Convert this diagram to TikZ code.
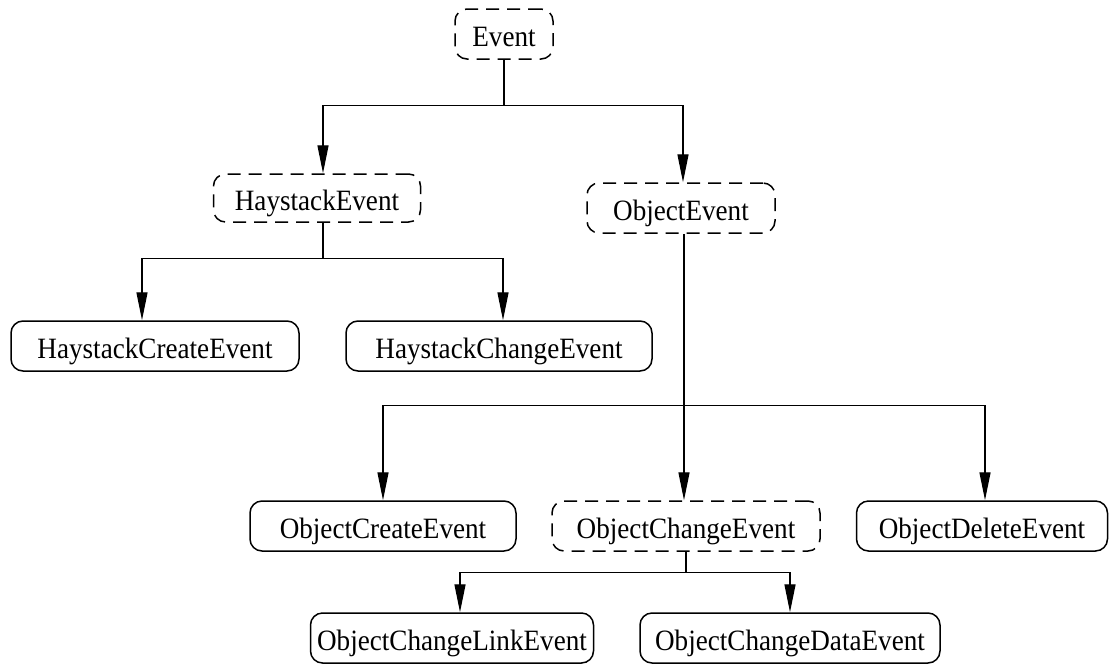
\documentclass[tikz,border=0pt]{standalone}
\usepackage{fontspec}
\setmainfont{Liberation Serif}[FakeStretch=0.92]
\usetikzlibrary{arrows.meta}
\begin{document}
\begin{tikzpicture}[x=1pt,y=-1pt,
  cls/.style={draw, line width=1.5pt, rounded corners=12pt,
    minimum height=50pt, inner xsep=0pt, inner ysep=0pt,
    font=\fontsize{29.5}{34}\selectfont,
    text height=24pt, text depth=0pt},
  abstractcls/.style={cls, dash pattern=on 13pt off 8pt},
  link/.style={line width=1.4pt},
  inherit/.style={link, -{Triangle[length=28pt,width=11pt]}}]
\useasboundingbox (0,0) rectangle (1117,665);

% classes
\node[abstractcls, minimum width=98pt]  (ev)  at (504,34)  {Event};
\node[abstractcls, minimum width=207pt, minimum height=48pt] (he) at (317,198) {HaystackEvent};
\node[abstractcls, minimum width=188pt] (oe)  at (681,208) {ObjectEvent};
\node[cls, minimum width=288pt]         (hc)  at (155,346) {HaystackCreateEvent};
\node[cls, minimum width=306pt]         (hch) at (499,346) {HaystackChangeEvent};
\node[cls, minimum width=266pt]         (oc)  at (383,526) {ObjectCreateEvent};
\node[abstractcls, minimum width=268pt] (och) at (686,526) {ObjectChangeEvent};
\node[cls, minimum width=251pt]         (od)  at (982,526) {ObjectDeleteEvent};
\node[cls, minimum width=283pt]         (ocl) at (452,638) {ObjectChangeLinkEvent};
\node[cls, minimum width=300pt]         (ocd) at (790,638) {ObjectChangeDataEvent};

% Event subclasses
\draw[link] (ev.south) -- ++(0,46) coordinate (j0);
\draw[inherit] (j0) -| ([xshift=6pt]he.north);
\draw[inherit] (j0) -| ([xshift=2pt]oe.north);

% HaystackEvent subclasses
\draw[link] ([xshift=6pt]he.south) -- ++(0,36) coordinate (j1);
\draw[inherit] (j1) -| ([xshift=-13pt]hc.north);
\draw[inherit] (j1) -| ([xshift=4pt]hch.north);

% ObjectEvent subclasses
\draw[inherit] ([xshift=3pt]oe.south) -- ([xshift=-2pt]och.north);
\coordinate (j2) at ([xshift=3pt,yshift=-172pt]oe.south);
\draw[inherit] (j2) -| (oc.north);
\draw[inherit] (j2) -| ([xshift=3pt]od.north);

% ObjectChangeEvent subclasses
\draw[link] (och.south) -- ++(0,21) coordinate (j3);
\draw[inherit] (j3) -| ([xshift=8pt]ocl.north);
\draw[inherit] (j3) -| (ocd.north);
\end{tikzpicture}
\end{document}
